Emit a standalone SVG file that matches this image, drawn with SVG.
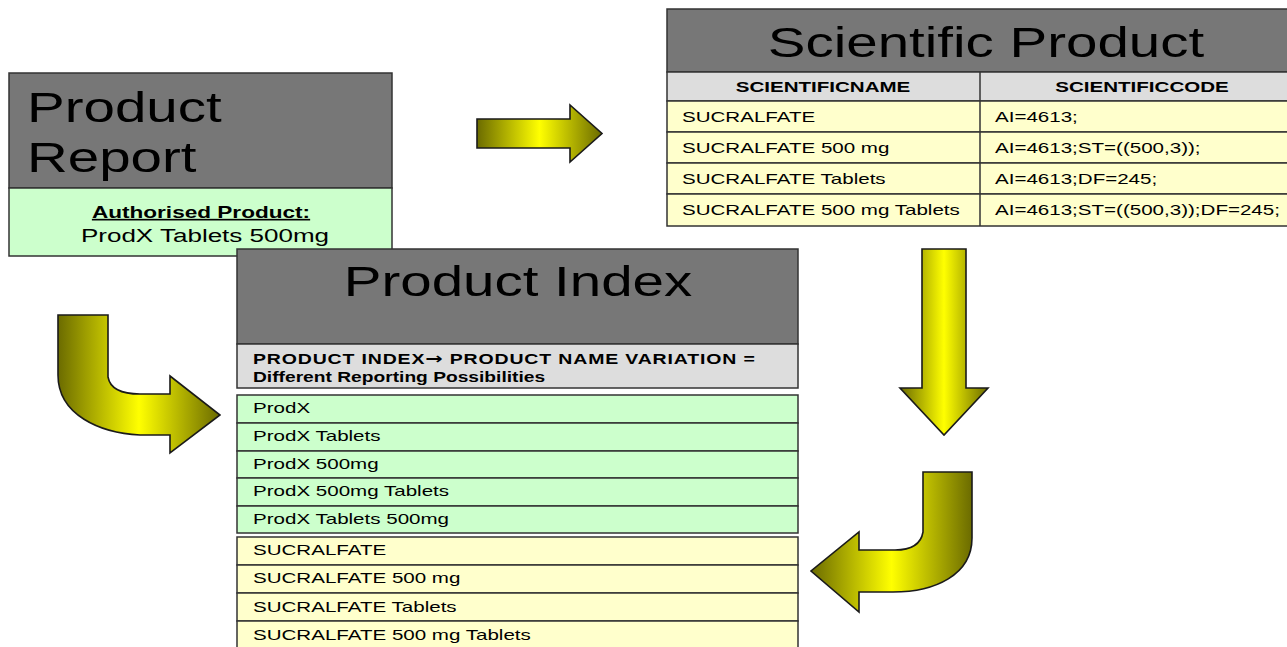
<svg xmlns="http://www.w3.org/2000/svg" width="1287" height="647" viewBox="0 0 1287 647">
<style>
.t{font-family:"Liberation Sans",Arial,sans-serif;fill:#000}
.title{font-size:42px}
.sm{font-size:15px}
.b{font-weight:bold}
.gray{fill:#777777;stroke:#333;stroke-width:1.5}
.lg{fill:#dddddd;stroke:#333;stroke-width:1.5}
.gr{fill:#ccffcc;stroke:#333;stroke-width:1.5}
.ye{fill:#ffffcc;stroke:#333;stroke-width:1.5}
.arrow{stroke:#1a1a1a;stroke-width:1.6;stroke-linejoin:miter}
</style>
<defs>
<linearGradient id="gh" x1="0" y1="0" x2="1" y2="0">
<stop offset="0" stop-color="#6b6b00"/>
<stop offset="0.5" stop-color="#ffff00"/>
<stop offset="1" stop-color="#6b6b00"/>
</linearGradient>
</defs>
<rect width="1287" height="647" fill="#ffffff"/>

<g id="scientific-product">
<rect class="gray" x="667" y="9" width="630" height="63"/>
<text class="t title" text-anchor="middle" transform="translate(986,57) scale(1.345,1)">Scientific Product</text>
<rect class="lg" x="667" y="72" width="630" height="29"/>
<rect class="ye" x="667" y="101" width="630" height="31"/>
<rect class="ye" x="667" y="132" width="630" height="31"/>
<rect class="ye" x="667" y="163" width="630" height="31"/>
<rect class="ye" x="667" y="194" width="630" height="32"/>
<line x1="980" y1="72" x2="980" y2="226" stroke="#333" stroke-width="1.5"/>
<text class="t sm b" text-anchor="middle" transform="translate(823,92) scale(1.37,1)">SCIENTIFICNAME</text>
<text class="t sm b" text-anchor="middle" transform="translate(1142,92) scale(1.37,1)">SCIENTIFICCODE</text>
<text class="t sm" transform="translate(682,122) scale(1.37,1)">SUCRALFATE</text>
<text class="t sm" transform="translate(682,153) scale(1.37,1)">SUCRALFATE 500 mg</text>
<text class="t sm" transform="translate(682,184) scale(1.37,1)">SUCRALFATE Tablets</text>
<text class="t sm" transform="translate(682,215) scale(1.37,1)">SUCRALFATE 500 mg Tablets</text>
<text class="t sm" transform="translate(995,122) scale(1.37,1)">AI=4613;</text>
<text class="t sm" transform="translate(995,153) scale(1.37,1)">AI=4613;ST=((500,3));</text>
<text class="t sm" transform="translate(995,184) scale(1.37,1)">AI=4613;DF=245;</text>
<text class="t sm" transform="translate(995,215) scale(1.37,1)">AI=4613;ST=((500,3));DF=245;</text>
</g>

<g id="product-report">
<rect class="gray" x="9" y="73" width="383" height="115"/>
<rect class="gr" x="9" y="188" width="383" height="68"/>
<text class="t title" transform="translate(27,122) scale(1.345,1)">Product</text>
<text class="t title" transform="translate(27,172) scale(1.345,1)">Report</text>
<text class="t b" font-size="16.5" text-anchor="middle" text-decoration="underline" transform="translate(201,218) scale(1.37,1)">Authorised Product:</text>
<text class="t" font-size="19" text-anchor="middle" transform="translate(205,242) scale(1.37,1)">ProdX Tablets 500mg</text>
</g>

<g id="product-index">
<rect class="gray" x="237" y="249" width="561" height="95"/>
<text class="t title" text-anchor="middle" transform="translate(518,296) scale(1.345,1)">Product Index</text>
<rect class="lg" x="237" y="344" width="561" height="44"/>
<text class="t sm b" transform="translate(253,364) scale(1.3,1)" textLength="386" lengthAdjust="spacing">PRODUCT INDEX<tspan font-family="'DejaVu Sans',sans-serif" font-size="16">→</tspan> PRODUCT NAME VARIATION =</text>
<text class="t sm b" transform="translate(253,382) scale(1.28,1)">Different Reporting Possibilities</text>
<rect class="gr" x="237" y="395" width="561" height="28"/>
<rect class="gr" x="237" y="423" width="561" height="28"/>
<rect class="gr" x="237" y="451" width="561" height="27"/>
<rect class="gr" x="237" y="478" width="561" height="28"/>
<rect class="gr" x="237" y="506" width="561" height="27"/>
<text class="t sm" transform="translate(253,413) scale(1.37,1)">ProdX</text>
<text class="t sm" transform="translate(253,441) scale(1.37,1)">ProdX Tablets</text>
<text class="t sm" transform="translate(253,469) scale(1.37,1)">ProdX 500mg</text>
<text class="t sm" transform="translate(253,496) scale(1.37,1)">ProdX 500mg Tablets</text>
<text class="t sm" transform="translate(253,524) scale(1.37,1)">ProdX Tablets 500mg</text>
<rect class="ye" x="237" y="537" width="561" height="28"/>
<rect class="ye" x="237" y="565" width="561" height="28"/>
<rect class="ye" x="237" y="593" width="561" height="28"/>
<rect class="ye" x="237" y="621" width="561" height="30"/>
<text class="t sm" transform="translate(253,555) scale(1.37,1)">SUCRALFATE</text>
<text class="t sm" transform="translate(253,583) scale(1.37,1)">SUCRALFATE 500 mg</text>
<text class="t sm" transform="translate(253,612) scale(1.37,1)">SUCRALFATE Tablets</text>
<text class="t sm" transform="translate(253,640) scale(1.37,1)">SUCRALFATE 500 mg Tablets</text>
</g>

<g id="connectors">
<path class="arrow" fill="url(#gh)" d="M477,119 L570,119 L570,105 L602,133.5 L570,162 L570,148 L477,148 Z"/>
<path class="arrow" fill="url(#gh)" d="M922,249 L966,249 L966,388 L988,388 L944,435 L900,388 L922,388 Z"/>
<path class="arrow" fill="url(#gh)" d="M58,315 L108,315 L108,377 Q111,394 140,394 L170,394 L170,376 L220,415 L170,453 L170,435 L140,435 C100,433 58,415 58,375 Z"/>
<path class="arrow" fill="url(#gh)" d="M923,472 L972,472 L972,538 C972,575 935,592 893,592 L859,592 L859,612 L811,571 L859,532 L859,550 L895,550 Q920,550 923,532 Z"/>
</g>
</svg>
